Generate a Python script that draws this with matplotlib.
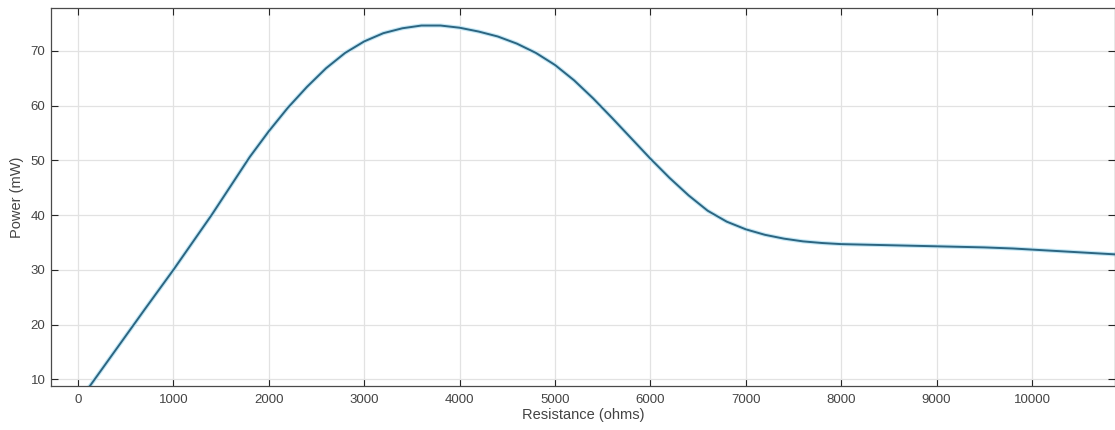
import numpy as np
import matplotlib
matplotlib.use('Agg')
import matplotlib.pyplot as plt

plt.rcParams['font.family'] = ['Liberation Sans', 'DejaVu Sans']

# values
resistance = [100, 400, 700, 1000, 1200, 1400, 1600, 1800, 2000, 2200, 2400,
              2600, 2800, 3000, 3200, 3400, 3600, 3800, 4000, 4200, 4400,
              4600, 4800, 5000, 5200, 5400, 5600, 5800, 6000, 6200, 6400,
              6600, 6800, 7000, 7200, 7400, 7600, 7800, 8000, 8500, 9000,
              9500, 9800, 10000, 10300, 10600, 10900]
power = [8.2, 15.5, 22.8, 30.0, 35.0, 40.0, 45.3, 50.6, 55.3, 59.6, 63.4,
         66.8, 69.6, 71.7, 73.2, 74.1, 74.6, 74.6, 74.2, 73.5, 72.6,
         71.3, 69.6, 67.4, 64.6, 61.3, 57.7, 54.0, 50.3, 46.8, 43.6,
         40.8, 38.8, 37.4, 36.4, 35.7, 35.2, 34.9, 34.7, 34.5, 34.3,
         34.1, 33.9, 33.7, 33.4, 33.1, 32.8]

x_ticks = list(range(0, 10001, 1000))
y_ticks = list(range(10, 71, 10))

fig = plt.figure(figsize=(11.15, 4.30), dpi=100)
ax = fig.add_axes([51 / 1115, 1 - 386 / 430, 1064 / 1115, 378 / 430])

ax.plot(resistance, power, color='#c4e8f6', lw=3.0, solid_capstyle='round', zorder=2)
ax.plot(resistance, power, color='#2c6581', lw=1.4, zorder=3)

ax.set_xlim(-283, 10870)
ax.set_ylim(8.8, 77.8)
ax.set_xticks(x_ticks)
ax.set_yticks(y_ticks)

ax.grid(True, color='#e2e2e2', lw=0.9)
ax.set_axisbelow(True)
ax.tick_params(direction='in', length=5, width=0.8, colors='#262626',
               labelcolor='#444444', labelsize=9.5, top=True, right=True)
ax.tick_params(axis='x', pad=6)
ax.tick_params(axis='y', pad=4)
for s in ax.spines.values():
    s.set_color('#4a4a4a')
    s.set_linewidth(0.9)

ax.set_xlabel('Resistance (ohms)', fontsize=10.5, color='#444444', labelpad=1)
ax.set_ylabel('Power (mW)', fontsize=10.5, color='#444444', labelpad=5)

fig.savefig('out.png', dpi=100)
